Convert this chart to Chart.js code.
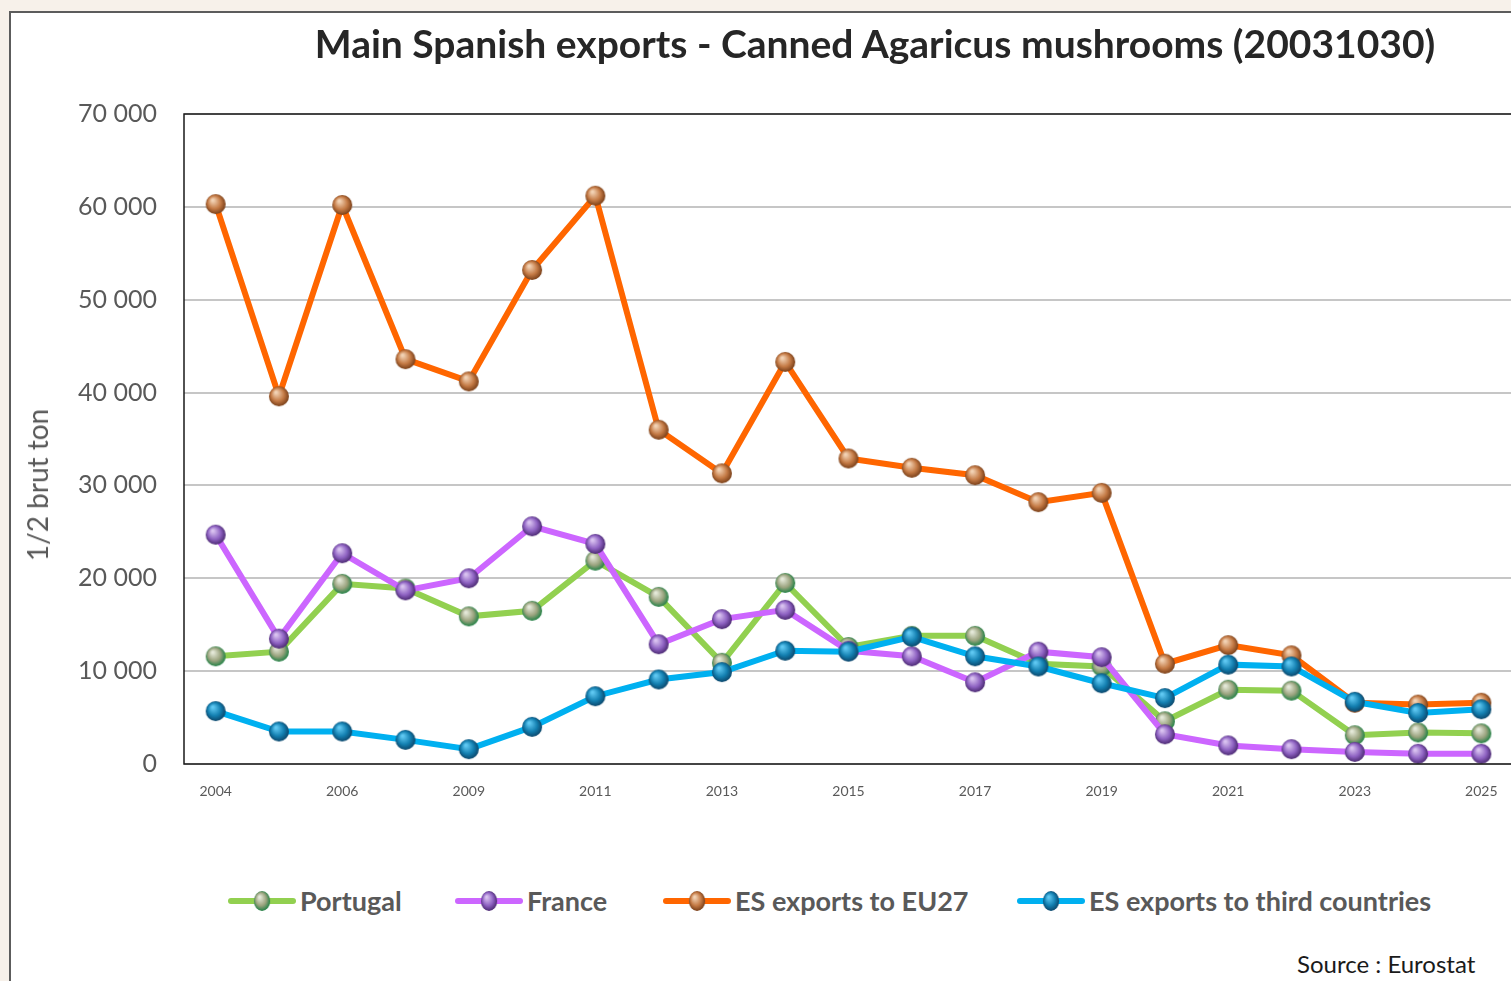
<!DOCTYPE html>
<html lang="en">
<head>
    <meta charset="UTF-8">
    <title>Main Spanish exports - Canned Agaricus mushrooms</title>
    <style>
        html, body {
            margin: 0;
            padding: 0;
            width: 1511px;
            height: 981px;
            overflow: hidden;
            background: #f7f1ea;
            font-family: Lato, "Open Sans", sans-serif;
        }
        .frame {
            position: absolute;
            left: 9px;
            top: 11px;
            width: 1600px;
            height: 1100px;
            border: 2px solid #5c5c5c;
            background: #fff;
        }
        #chart {
            position: absolute;
            left: 0;
            top: 0;
        }
        h1 {
            position: absolute;
            left: 300px;
            top: 20px;
            width: 1150px;
            margin: 0;
            text-align: center;
            font-size: 39px;
            font-weight: 700;
            color: #262626;
            white-space: nowrap;
        }
        .ytitle {
            position: absolute;
            left: 37px;
            top: 485px;
            transform: translate(-50%, -50%) rotate(-90deg);
            font-size: 28px;
            color: #595959;
            white-space: nowrap;
        }
        /* legend under the plot */
        .legend .item {
            position: absolute;
            top: 884px;
            display: flex;
            align-items: center;
            white-space: nowrap;
        }
        .legend .item:nth-child(1) { left: 228px; }
        .legend .item:nth-child(2) { left: 455px; }
        .legend .item:nth-child(3) { left: 663px; }
        .legend .item:nth-child(4) { left: 1017px; }
        .legend .swatch {
            position: relative;
            width: 68px;
            height: 22px;
            margin-right: 4px;
        }
        .legend .swatch .bar {
            position: absolute;
            left: 0;
            top: 8px;
            width: 68px;
            height: 6px;
            border-radius: 3px;
        }
        .legend .swatch img {
            position: absolute;
            left: 25px;
            top: 0;
            width: 18px;
            height: 22px;
        }
        .legend .label {
            font-size: 27px;
            font-weight: 700;
            color: #595959;
        }
        .source {
            position: absolute;
            left: 1297px;
            top: 949px;
            font-size: 24px;
            color: #1a1a1a;
        }
    </style>
</head>
<body>
    <div class="frame"></div>
    <canvas id="chart" width="1530" height="820"></canvas>
    <h1>Main Spanish exports - Canned Agaricus mushrooms (20031030)</h1>
    <div class="ytitle">1/2 brut ton</div>
    <div class="legend" id="legend"></div>
    <div class="source">Source : Eurostat</div>

    <script src="https://cdn.jsdelivr.net/npm/chart.js"></script>
    <script>
        // data (1/2 brut ton)
        const years = ['2004', '2005', '2006', '2008', '2009', '2010', '2011', '2012', '2013', '2014', '2015',
                       '2016', '2017', '2018', '2019', '2020', '2021', '2022', '2023', '2024', '2025'];
        const portugal = [11600, 12100, 19400, 18900, 15900, 16500, 21900, 18000, 10900, 19500, 12600,
                          13800, 13800, 10800, 10500, 4600, 8000, 7900, 3100, 3400, 3300];
        const france = [24700, 13500, 22700, 18700, 20000, 25600, 23700, 12900, 15600, 16600, 12200,
                        11600, 8800, 12100, 11500, 3200, 2000, 1600, 1300, 1100, 1100];
        const esEu27 = [60300, 39600, 60200, 43600, 41200, 53200, 61200, 36000, 31300, 43300, 32900,
                        31900, 31100, 28200, 29200, 10800, 12800, 11700, 6600, 6400, 6600];
        const esThird = [5700, 3500, 3500, 2600, 1600, 4000, 7300, 9100, 9900, 12200, 12100,
                         13700, 11600, 10500, 8700, 7100, 10700, 10500, 6700, 5500, 5900];
        const yTicks = [0, 10000, 20000, 30000, 40000, 50000, 60000, 70000];

        // shaded "bead" markers like the office chart
        function bead(light, mid, dark) {
            const c = document.createElement('canvas');
            c.width = 22; c.height = 22;
            const g = c.getContext('2d');
            const grad = g.createRadialGradient(8, 7, 1, 11, 11, 11);
            grad.addColorStop(0, light);
            grad.addColorStop(0.55, mid);
            grad.addColorStop(1, dark);
            g.fillStyle = grad;
            g.beginPath();
            g.arc(11, 11, 10, 0, Math.PI * 2);
            g.fill();
            return c;
        }

        const series = [
            { label: 'Portugal', data: portugal, color: '#92d050', img: bead('#e4e8d8', '#9aa37e', '#0b7a3a'), order: 3 },
            { label: 'France', data: france, color: '#cc66ff', img: bead('#d9c2f0', '#8e62c2', '#3f1f63'), order: 2 },
            { label: 'ES exports to EU27', data: esEu27, color: '#ff6600', img: bead('#f2d2b4', '#c47a45', '#6b3410'), order: 1 },
            { label: 'ES exports to third countries', data: esThird, color: '#00b0f0', img: bead('#5fc8f2', '#137fb0', '#0a3c5e'), order: 0 }
        ];

        const plotFrame = {
            id: 'plotFrame',
            afterDraw(chart) {
                const a = chart.chartArea;
                const ctx = chart.ctx;
                ctx.save();
                ctx.strokeStyle = '#1a1a1a';
                ctx.lineWidth = 1.5;
                ctx.strokeRect(a.left, a.top, a.right - a.left, a.bottom - a.top);
                ctx.restore();
            }
        };

        const chart = new Chart(document.getElementById('chart'), {
            type: 'line',
            data: {
                labels: years,
                datasets: series.map(s => ({
                    label: s.label,
                    data: s.data,
                    borderColor: s.color,
                    backgroundColor: s.color,
                    borderWidth: 6,
                    pointStyle: s.img,
                    pointRadius: 10,
                    tension: 0,
                    order: s.order
                }))
            },
            options: {
                responsive: false,
                animation: false,
                devicePixelRatio: 1,
                layout: { padding: { left: 0, top: 114, right: 17, bottom: 0 } },
                plugins: {
                    legend: { display: false },
                    tooltip: { enabled: false }
                },
                scales: {
                    x: {
                        offset: true,
                        grid: { display: false, drawTicks: false },
                        border: { display: false },
                        afterFit: s => { s.height = 56; },
                        ticks: {
                            autoSkip: false,
                            maxRotation: 0,
                            padding: 19,
                            color: '#595959',
                            font: { family: 'Lato', size: 14 },
                            callback: function (v, i) { return i % 2 === 0 ? this.getLabelForValue(v) : ''; }
                        }
                    },
                    y: {
                        min: 0,
                        max: 70000,
                        afterFit: s => { s.width = 184; },
                        afterBuildTicks: s => { s.ticks = yTicks.map(v => ({ value: v })); },
                        grid: { color: '#c6c6c6', lineWidth: 2, drawTicks: false },
                        border: { display: false },
                        ticks: {
                            padding: 27,
                            color: '#595959',
                            font: { family: 'Lato', size: 25 },
                            callback: v => String(v).replace(/\B(?=(\d{3})+(?!\d))/g, ' ')
                        }
                    }
                }
            },
            plugins: [plotFrame]
        });

        // html legend built from the datasets
        const legend = document.getElementById('legend');
        series.forEach(s => {
            const item = document.createElement('div');
            item.className = 'item';
            item.innerHTML = '<div class="swatch"><div class="bar" style="background:' + s.color + '"></div>' +
                '<img src="' + s.img.toDataURL() + '"></div><span class="label">' + s.label + '</span>';
            legend.appendChild(item);
        });
    </script>
</body>
</html>
